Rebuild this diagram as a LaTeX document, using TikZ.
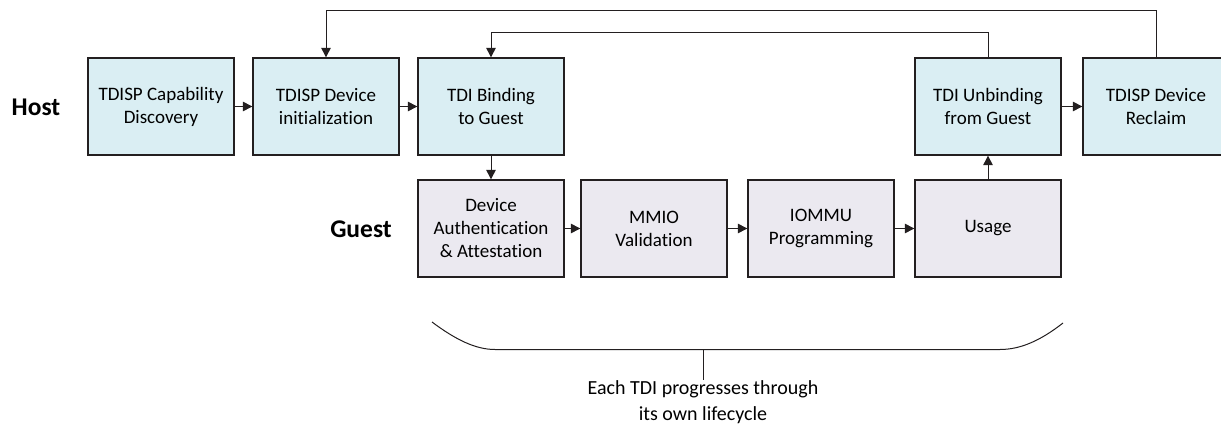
\documentclass[tikz,border=0pt]{standalone}
\usepackage{fontspec}
\setmainfont{Carlito}[Ligatures=NoCommon]
\usetikzlibrary{arrows.meta}
\definecolor{hostfill}{RGB}{218,238,243}
\definecolor{guestfill}{RGB}{235,233,240}
\definecolor{edge}{RGB}{35,31,32}
\tikzset{
  stage/.style={draw=edge, line width=1.3pt, minimum width=146pt, minimum height=97pt,
    align=center, inner sep=2pt, font=\fontsize{19}{23}\selectfont},
  hoststage/.style={stage, fill=hostfill},
  gueststage/.style={stage, fill=guestfill},
  rowlabel/.style={font=\fontsize{25.5}{30}\selectfont\bfseries},
  flow/.style={draw=edge, line width=1pt, -{Triangle[length=9.5pt,width=9.5pt]}},
  plain/.style={draw=edge, line width=1pt},
}
\begin{document}
\begin{tikzpicture}[x=1pt, y=-1pt]
\useasboundingbox (0,0) rectangle (1221,425);

% row labels
\node[rowlabel] (hostlbl) at (36,107) {Host};
\node[rowlabel] (guestlbl) at (361,229) {Guest};

% host stages
\node[hoststage] (cap)    at (161,106.5)  {TDISP Capability\\Discovery};
\node[hoststage] (init)   at (326,106.5)  {TDISP Device\\initialization};
\node[hoststage] (bind)   at (491,106.5)  {TDI Binding\\to Guest};
\node[hoststage] (unbind) at (988,106.5)  {TDI Unbinding\\from Guest};
\node[hoststage] (reclaim) at (1156,106.5) {TDISP Device\\Reclaim};

% guest stages
\node[gueststage] (auth)  at (491,228.5) {Device\\Authentication\\\& Attestation};
\node[gueststage] (mmio)  at (654,228.5) {MMIO\\Validation};
\node[gueststage] (iommu) at (821,228.5) {IOMMU\\Programming};
\node[gueststage] (usage) at (988,228.5) {Usage};

% forward flow
\draw[flow] (cap) -- (init);
\draw[flow] (init) -- (bind);
\draw[flow] (bind) -- (auth);
\draw[flow] (auth) -- (mmio);
\draw[flow] (mmio) -- (iommu);
\draw[flow] (iommu) -- (usage);
\draw[flow] (usage) -- (unbind);
\draw[flow] (unbind) -- (reclaim);

% loops back
\coordinate (outer) at (0,11);
\coordinate (inner) at (0,33);
\draw[flow] (reclaim.north) |- (outer -| reclaim.north) -- (outer -| init.north) -- (init.north);
\draw[flow] (unbind.north) |- (inner -| unbind.north) -- (inner -| bind.north) -- (bind.north);

% lifecycle brace
\coordinate (braceL) at (432,322);
\coordinate (braceR) at (1063,323);
\coordinate (tick) at (703,349.5);
\draw[plain] (braceL) .. controls (456,340) and (476,349.5) .. (495,349.5)
  -- (1000,349.5) .. controls (1020,349.5) and (1040,341) .. (braceR);
\node[font=\fontsize{20}{26}\selectfont, align=center, inner sep=0pt, anchor=north]
  (note) at (703,380) {Each TDI progresses through\\its own lifecycle};
\draw[plain] (tick) -- (note.north);
\end{tikzpicture}
\end{document}
